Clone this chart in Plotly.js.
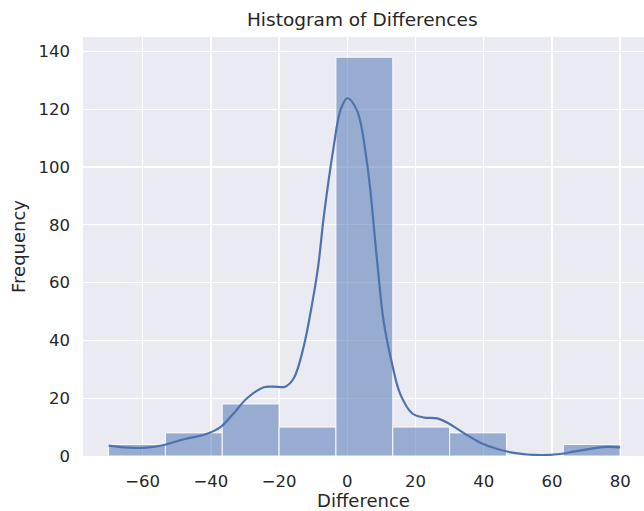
<!DOCTYPE html>
<html>
<head>
<meta charset="utf-8">
<script src="https://cdn.plot.ly/plotly-3.0.1.min.js"></script>
<style>html,body{margin:0;padding:0;background:#fff;}#chart{width:644px;height:511px;}</style>
</head>
<body>
<div id="chart"></div>
<script>
// Histogram bins
const binStart = -70;
const binEnd = 80;
const counts = [4, 8, 18, 10, 138, 10, 8, 0, 4];

// KDE curve (scaled to counts)
const kdeX = [-70, -65.5, -59.7, -53.8, -47.9, -41.6, -37.2, -33.3, -29.4, -24.5, -21.6, -18.2, -15.7, -12.8, -10.3, -8.5, -6.9, -4.0, -2.0, 0, 2.8, 5.8, 8.7, 10.6, 13.1, 15.5, 19.0, 22.5, 26.3, 29.5, 34.1, 39.0, 44.0, 48.8, 56.6, 62.4, 66.3, 70.3, 75.0, 80];
const kdeY = [3.6, 3.0, 2.8, 3.8, 5.8, 7.5, 10.0, 14.8, 20.0, 23.8, 24.0, 24.0, 26.9, 37.8, 52.8, 66.0, 82.8, 107.0, 119.7, 123.8, 119.7, 101.3, 68.0, 47.0, 32.0, 21.5, 14.8, 13.3, 13.0, 11.4, 8.0, 4.6, 2.4, 1.1, 0.3, 0.7, 1.5, 2.3, 3.1, 3.0];

const xTicks = [-60, -40, -20, 0, 20, 40, 60, 80];
const yTicks = [0, 20, 40, 60, 80, 100, 120, 140];

const nb = counts.length;
const bw = (binEnd - binStart) / nb;
const centers = counts.map((_, i) => binStart + bw * (i + 0.5));

const txt = '#262626';
const font = 'DejaVu Sans, sans-serif';

const traces = [
  {
    type: 'bar', x: centers, y: counts, width: bw,
    marker: {color: 'rgba(76,114,176,0.52)', line: {color: 'rgba(255,255,255,0.9)', width: 1}},
    hoverinfo: 'skip'
  },
  {
    type: 'scatter', mode: 'lines', x: kdeX, y: kdeY,
    line: {color: '#4C72B0', width: 2.2, shape: 'spline', smoothing: 1},
    hoverinfo: 'skip'
  }
];

const layout = {
  width: 644, height: 511,
  margin: {l: 82.5, r: 0, t: 37, b: 54.5},
  paper_bgcolor: '#ffffff',
  plot_bgcolor: '#EAEAF2',
  showlegend: false,
  bargap: 0,
  title: {text: 'Histogram of Differences', font: {family: font, size: 18.5, color: txt},
          x: 0.5625, xanchor: 'center', y: 1 - 20 / 511, yanchor: 'middle', xref: 'container', yref: 'container'},
  xaxis: {
    range: [-77.5, 87.0], tickvals: xTicks, ticks: '', showline: false, zeroline: false,
    gridcolor: '#ffffff', gridwidth: 1.3,
    tickfont: {family: font, size: 16.5, color: txt}, ticklabelstandoff: 13,
    title: {text: 'Difference', font: {family: font, size: 18, color: txt}, standoff: 7}
  },
  yaxis: {
    range: [0, 145], tickvals: yTicks, ticks: '', showline: false, zeroline: false,
    gridcolor: '#ffffff', gridwidth: 1.3,
    tickfont: {family: font, size: 16.5, color: txt}, ticklabelstandoff: 12,
    title: {text: 'Frequency', font: {family: font, size: 18, color: txt}, standoff: 8}
  }
};

Plotly.newPlot('chart', traces, layout, {displayModeBar: false, staticPlot: true});
</script>
</body>
</html>
